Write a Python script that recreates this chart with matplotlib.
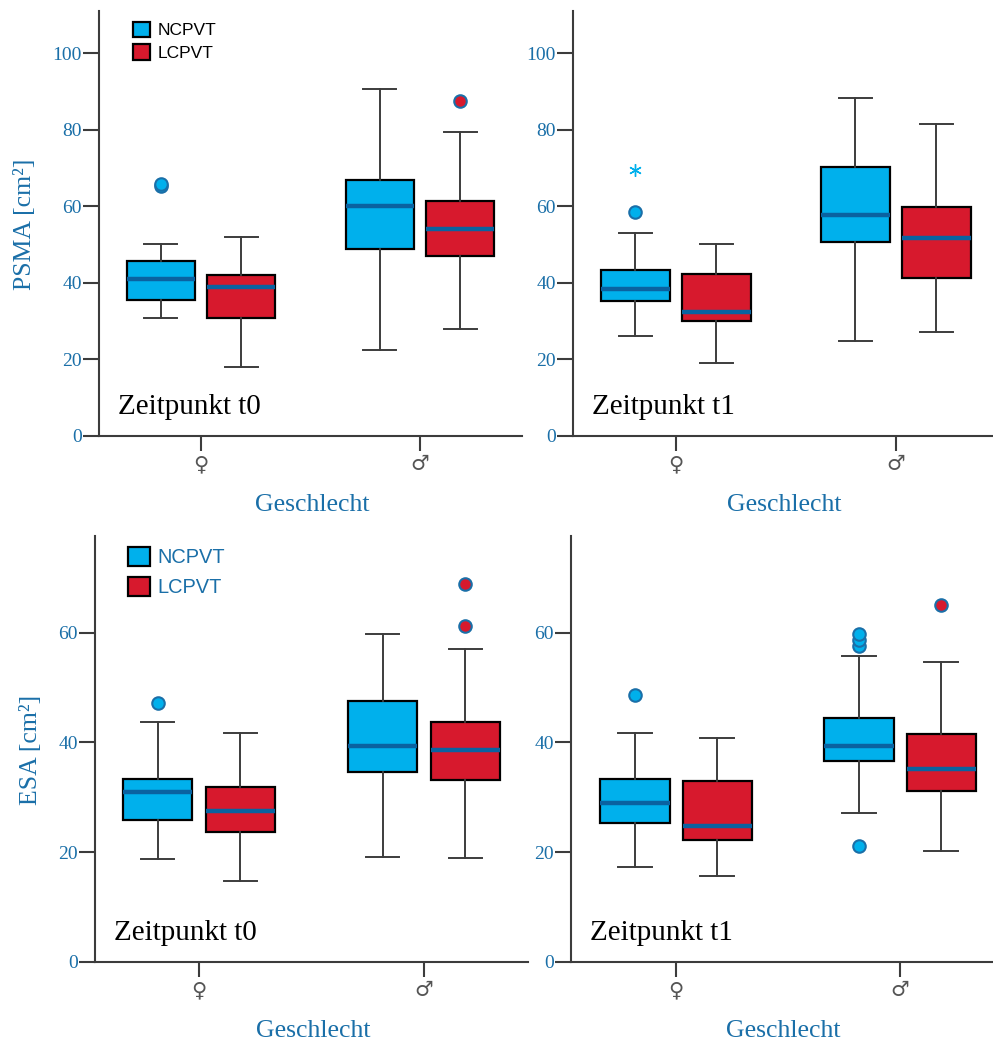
import numpy as np
import matplotlib.pyplot as plt
from matplotlib.patches import Patch

plt.rcParams['font.family'] = ['Liberation Serif', 'DejaVu Sans']

groups = ['\u2640', '\u2642']
series = ['NCPVT', 'LCPVT']

# five-number summaries per group: whislo, q1, median, q3, whishi
psma_t0_ncpvt = [[30.9, 35.4, 41.1, 45.8, 50.1], [22.4, 48.8, 60.2, 66.9, 90.7]]
psma_t0_lcpvt = [[18.1, 30.9, 38.9, 42.0, 52.1], [28.0, 47.0, 54.1, 61.4, 79.5]]
psma_t0_ncpvt_out = [[65.4, 65.8], []]
psma_t0_lcpvt_out = [[], [87.4]]

psma_t1_ncpvt = [[26.1, 35.3, 38.5, 43.3, 53.0], [24.9, 50.7, 57.8, 70.3, 88.2]]
psma_t1_lcpvt = [[19.1, 30.1, 32.4, 42.2, 50.2], [27.2, 41.2, 51.8, 59.9, 81.5]]
psma_t1_ncpvt_out = [[58.4], []]
psma_t1_lcpvt_out = [[], []]
psma_t1_ncpvt_extreme = [[69.5], []]

esa_t0_ncpvt = [[18.8, 25.8, 31.0, 33.3, 43.7], [19.2, 34.7, 39.4, 47.5, 59.7]]
esa_t0_lcpvt = [[14.8, 23.7, 27.5, 31.8, 41.7], [19.0, 33.1, 38.7, 43.7, 57.0]]
esa_t0_ncpvt_out = [[47.1], []]
esa_t0_lcpvt_out = [[], [61.2, 68.9]]

esa_t1_ncpvt = [[17.3, 25.3, 29.0, 33.3, 41.8], [27.1, 36.6, 39.4, 44.5, 55.8]]
esa_t1_lcpvt = [[15.6, 22.3, 24.8, 33.0, 40.8], [20.2, 31.1, 35.1, 41.5, 54.7]]
esa_t1_ncpvt_out = [[48.7], [21.2, 57.6, 58.7, 59.8]]
esa_t1_lcpvt_out = [[], [65.0]]

blue_fill = '#00b0ec'
red_fill = '#d7192d'
med_col = '#0a62a0'
txt_col = '#1a6fa8'
dark = '#3c3c3c'

W, H = 993, 1043
fig = plt.figure(figsize=(W / 100, H / 100), dpi=100)


def add_axes(l, t, r, b):
    return fig.add_axes([l / W, 1 - b / H, (r - l) / W, (b - t) / H])


def draw(ax, ncp, lcp, ncp_out, lcp_out, xlim, ylim, yticks, label, ylabel=None, ext=None):
    x = np.arange(len(groups))
    for vals, outs, fill, off in [(ncp, ncp_out, blue_fill, -0.184), (lcp, lcp_out, red_fill, 0.184)]:
        stats = [dict(whislo=v[0], q1=v[1], med=v[2], q3=v[3], whishi=v[4], fliers=[]) for v in vals]
        ax.bxp(stats, positions=x + off, widths=0.31, capwidths=0.15, patch_artist=True,
               showfliers=False, manage_ticks=False,
               boxprops=dict(facecolor=fill, edgecolor='black', linewidth=1.6),
               medianprops=dict(color=med_col, linewidth=3.2, solid_capstyle='butt'),
               whiskerprops=dict(color=dark, linewidth=1.4),
               capprops=dict(color=dark, linewidth=1.4))
        for i, o in enumerate(outs):
            if o:
                ax.plot([x[i] + off] * len(o), o, 'o', ms=9, mfc=fill, mec=txt_col, mew=1.5, zorder=4)
    if ext:
        for i, o in enumerate(ext):
            if o:
                ax.plot([x[i] - 0.184] * len(o), o, marker=(6, 2, 0), ls='none', ms=9,
                        mec=blue_fill, mew=1.0, zorder=4)

    ax.set_xlim(*xlim)
    ax.set_ylim(*ylim)
    ax.set_yticks(yticks)
    ax.set_xticks(x)
    ax.set_xticklabels(groups, family='DejaVu Sans', fontsize=15, color='#555555')
    for s in ['top', 'right']:
        ax.spines[s].set_visible(False)
    for s in ['left', 'bottom']:
        ax.spines[s].set_color(dark)
        ax.spines[s].set_linewidth(1.5)
    ax.tick_params(axis='y', length=11.5, width=1.5, color=dark, labelcolor=txt_col,
                   labelsize=14, pad=1)
    ax.tick_params(axis='x', length=11, width=1.5, color=dark, pad=2)
    ax.set_xlabel('Geschlecht', fontsize=18.5, color=txt_col, va='center')
    ax.xaxis.set_label_coords(0.503, -0.162)
    if ylabel:
        ax.set_ylabel(ylabel, fontsize=18.5, color=txt_col, va='center')
    ax.text(0.045, 0.068, label, transform=ax.transAxes, fontsize=21, color='black',
            va='center', ha='left')


ax1 = add_axes(99, 11, 522, 436)
draw(ax1, psma_t0_ncpvt, psma_t0_lcpvt, psma_t0_ncpvt_out, psma_t0_lcpvt_out,
     (-0.466, 1.466), (0, 111), range(0, 101, 20), 'Zeitpunkt t0', 'PSMA [cm\u00b2]')
ax1.yaxis.set_label_coords(-0.175, 0.497)

ax2 = add_axes(573, 11, 993, 436)
draw(ax2, psma_t1_ncpvt, psma_t1_lcpvt, psma_t1_ncpvt_out, psma_t1_lcpvt_out,
     (-0.468, 1.441), (0, 111), range(0, 101, 20), 'Zeitpunkt t1', ext=psma_t1_ncpvt_extreme)

ax3 = add_axes(95, 536, 528, 962)
draw(ax3, esa_t0_ncpvt, esa_t0_lcpvt, esa_t0_ncpvt_out, esa_t0_lcpvt_out,
     (-0.462, 1.462), (0, 77.6), range(0, 61, 20), 'Zeitpunkt t0', 'ESA [cm\u00b2]')
ax3.yaxis.set_label_coords(-0.148, 0.498)

ax4 = add_axes(571, 536, 993, 962)
draw(ax4, esa_t1_ncpvt, esa_t1_lcpvt, esa_t1_ncpvt_out, esa_t1_lcpvt_out,
     (-0.469, 1.415), (0, 77.6), range(0, 61, 20), 'Zeitpunkt t1')

handles = [Patch(facecolor=blue_fill, edgecolor='black', linewidth=1.6),
           Patch(facecolor=red_fill, edgecolor='black', linewidth=1.6)]
ax1.legend(handles, series, loc='upper left', bbox_to_anchor=(0.08, 0.975), frameon=False,
           borderaxespad=0, borderpad=0, handlelength=1.0, handleheight=1.0,
           handletextpad=0.4, labelspacing=0.35,
           prop=dict(family='Liberation Sans', size=12.5))
leg = ax3.legend(handles, series, loc='upper left', bbox_to_anchor=(0.076, 0.975), frameon=False,
                 borderaxespad=0, borderpad=0, handlelength=1.1, handleheight=1.1,
                 handletextpad=0.35, labelspacing=0.5,
                 prop=dict(family='Liberation Sans', size=14.4))
for t in leg.get_texts():
    t.set_color(txt_col)

fig.savefig('out.png', dpi=100)
